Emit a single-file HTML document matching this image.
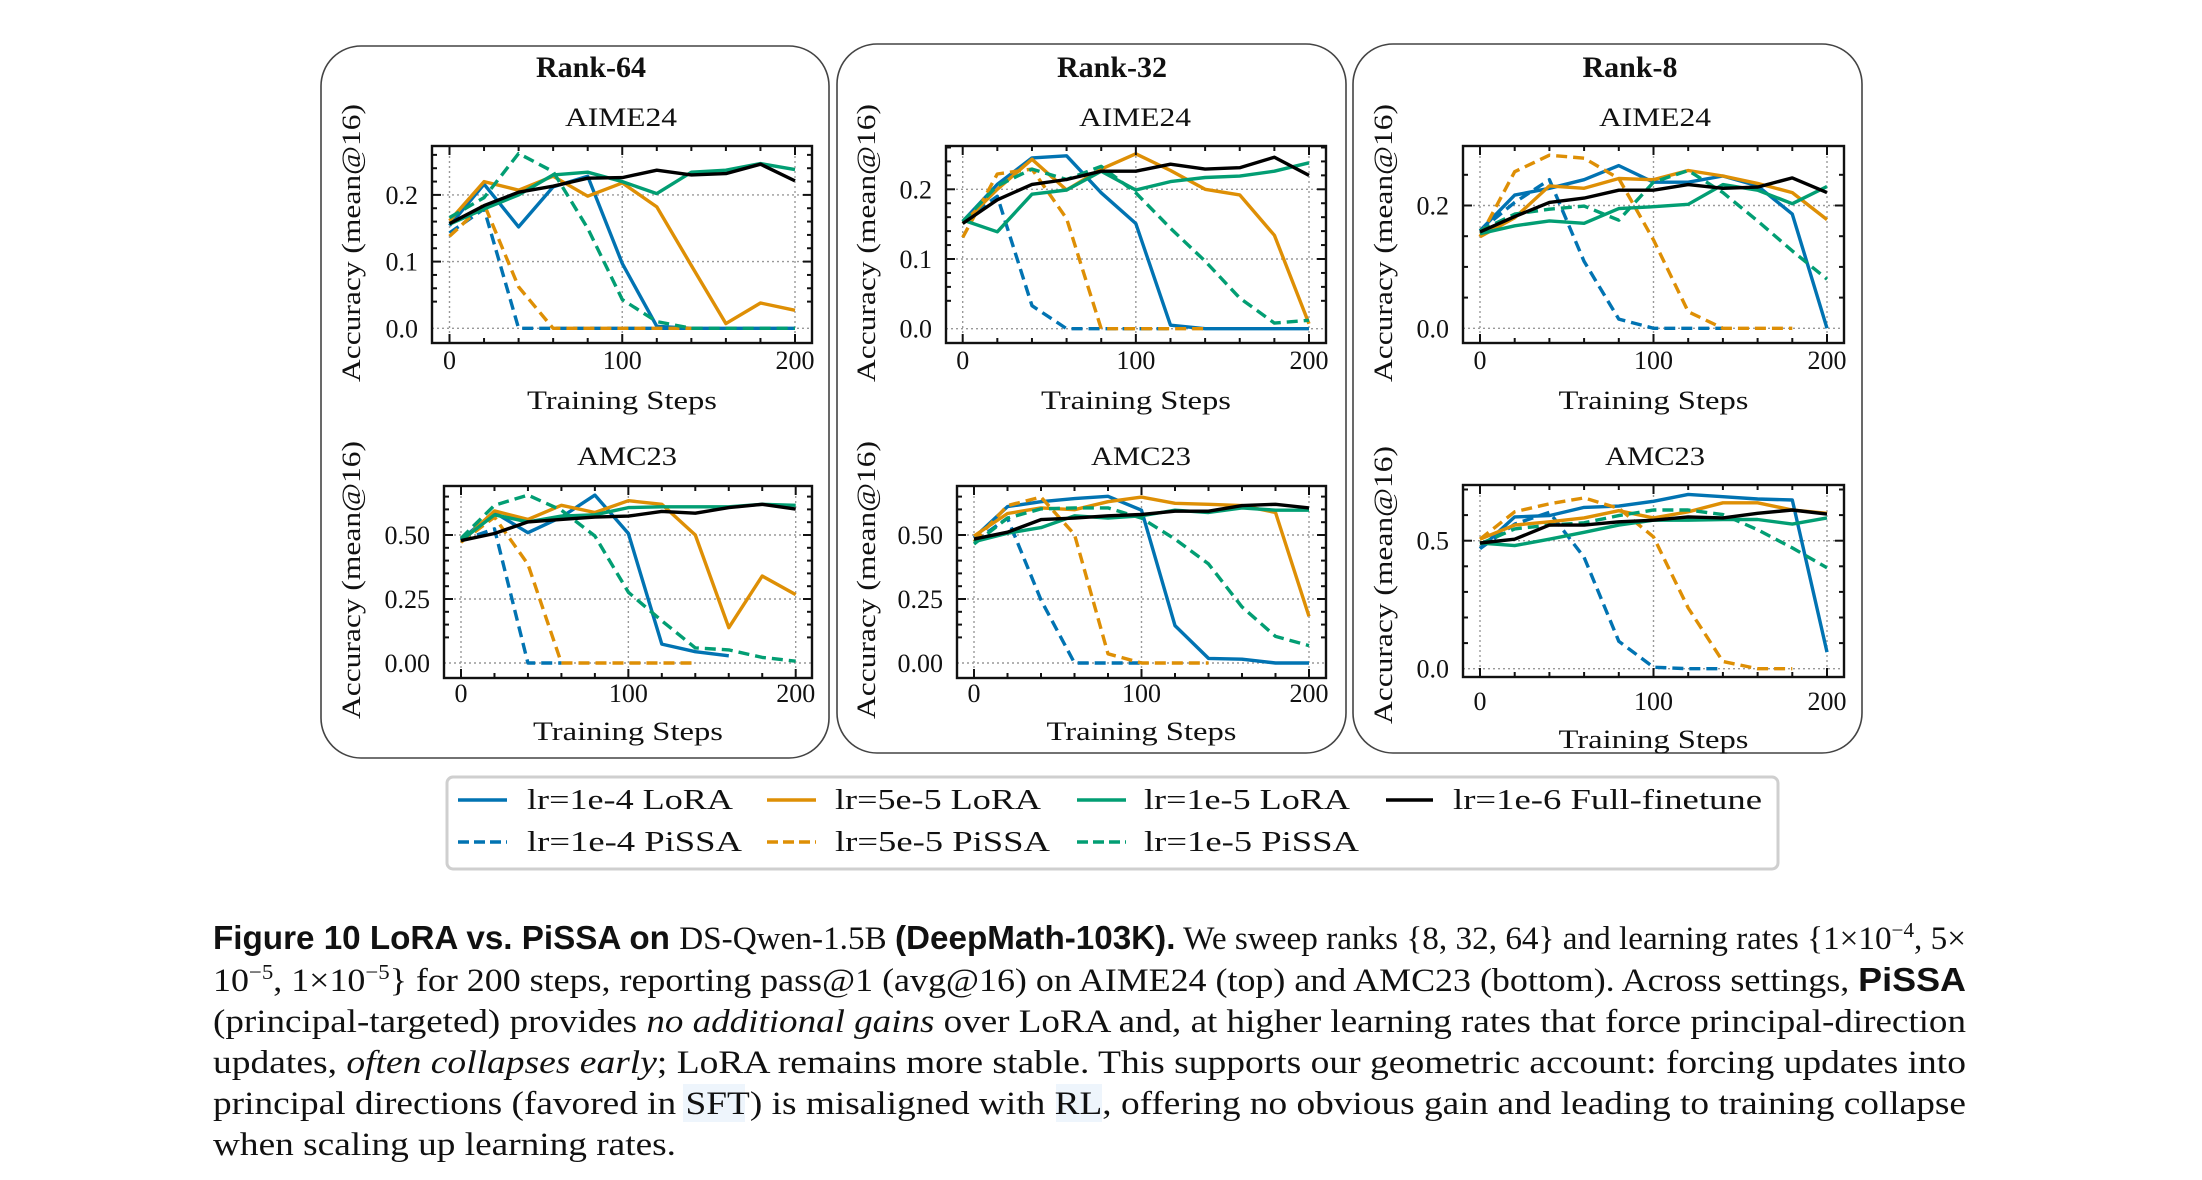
<!DOCTYPE html>
<html><head><meta charset="utf-8"><style>
html,body{margin:0;padding:0;background:#fff;}
svg{display:block;}
text{font-family:"Liberation Serif",serif;fill:#111;}
.sans{font-family:"Liberation Sans",sans-serif;font-weight:bold;}
</style></head>
<body>
<svg id="fig" xmlns="http://www.w3.org/2000/svg" width="2202" height="1180" viewBox="0 0 2202 1180">
<rect width="2202" height="1180" fill="#fff"/>
<g id="panels"></g>
<g id="legend">
  <rect x="447" y="777" width="1331" height="92" rx="6" fill="#fff" stroke="#cfcfcf" stroke-width="3"/>
  <g><line x1="458" y1="800" x2="507" y2="800" stroke="#0173B2" stroke-width="3.5"/><text x="527" y="809" font-size="28" textLength="206" lengthAdjust="spacingAndGlyphs">lr=1e-4 LoRA</text></g>
  <g><line x1="767" y1="800" x2="816" y2="800" stroke="#DE8F05" stroke-width="3.5"/><text x="835" y="809" font-size="28" textLength="206" lengthAdjust="spacingAndGlyphs">lr=5e-5 LoRA</text></g>
  <g><line x1="1077" y1="800" x2="1126" y2="800" stroke="#029E73" stroke-width="3.5"/><text x="1144" y="809" font-size="28" textLength="206" lengthAdjust="spacingAndGlyphs">lr=1e-5 LoRA</text></g>
  <g><line x1="1386" y1="800" x2="1433" y2="800" stroke="#000" stroke-width="3.5"/><text x="1453" y="809" font-size="28" textLength="309" lengthAdjust="spacingAndGlyphs">lr=1e-6 Full-finetune</text></g>
  <g><line x1="458" y1="842" x2="507" y2="842" stroke="#0173B2" stroke-width="3.5" stroke-dasharray="11,5"/><text x="527" y="851" font-size="28" textLength="215" lengthAdjust="spacingAndGlyphs">lr=1e-4 PiSSA</text></g>
  <g><line x1="767" y1="842" x2="816" y2="842" stroke="#DE8F05" stroke-width="3.5" stroke-dasharray="11,5"/><text x="835" y="851" font-size="28" textLength="215" lengthAdjust="spacingAndGlyphs">lr=5e-5 PiSSA</text></g>
  <g><line x1="1077" y1="842" x2="1126" y2="842" stroke="#029E73" stroke-width="3.5" stroke-dasharray="11,5"/><text x="1144" y="851" font-size="28" textLength="215" lengthAdjust="spacingAndGlyphs">lr=1e-5 PiSSA</text></g>
</g>
<g id="caption">
  <rect x="683" y="1084" width="62" height="38" fill="#eef5fc"/>
  <rect x="1056" y="1084" width="46" height="38" fill="#eef5fc"/>
  <text x="213" y="949" font-size="33" textLength="1753" lengthAdjust="spacingAndGlyphs"><tspan class="sans">Figure 10  LoRA vs. PiSSA on </tspan><tspan>DS-Qwen-1.5B </tspan><tspan class="sans">(DeepMath-103K).</tspan><tspan> We sweep ranks {8, 32, 64} and learning rates {1×10</tspan><tspan font-size="21" dy="-12">−4</tspan><tspan dy="12">, 5×</tspan></text>
  <text x="213" y="991" font-size="33" textLength="1753" lengthAdjust="spacingAndGlyphs"><tspan>10</tspan><tspan font-size="21" dy="-12">−5</tspan><tspan dy="12">, 1×10</tspan><tspan font-size="21" dy="-12">−5</tspan><tspan dy="12">} for 200 steps, reporting pass@1 (avg@16) on AIME24 (top) and AMC23 (bottom). Across settings, </tspan><tspan class="sans">PiSSA</tspan></text>
  <text x="213" y="1032" font-size="33" textLength="1753" lengthAdjust="spacingAndGlyphs">(principal-targeted) provides <tspan font-style="italic">no additional gains</tspan> over LoRA and, at higher learning rates that force principal-direction</text>
  <text x="213" y="1073" font-size="33" textLength="1753" lengthAdjust="spacingAndGlyphs">updates, <tspan font-style="italic">often collapses early</tspan>; LoRA remains more stable. This supports our geometric account: forcing updates into</text>
  <text x="213" y="1114" font-size="33" textLength="1753" lengthAdjust="spacingAndGlyphs">principal directions (favored in SFT) is misaligned with RL, offering no obvious gain and leading to training collapse</text>
  <text x="213" y="1155" font-size="33" textLength="463" lengthAdjust="spacingAndGlyphs">when scaling up learning rates.</text>
</g>
</svg>
<script>
const steps = [0,20,40,60,80,100,120,140,160,180,200];
const seriesNames = ["lora-1e-4","pissa-1e-4","lora-5e-5","pissa-5e-5","lora-1e-5","pissa-1e-5","full-1e-6"];
// Rank-64 AIME24
const r64AimeLora1e4 = [0.154,0.216,0.152,0.212,0.228,0.097,0.003,0,0,0,0];
const r64AimePissa1e4 = [0.143,0.179,0,0,0,0,0,0,null,null,null];
const r64AimeLora5e5 = [0.161,0.220,0.207,0.228,0.198,0.218,0.182,0.094,0.007,0.038,0.027];
const r64AimePissa5e5 = [0.138,0.186,0.062,0,0,0,0,0,null,null,null];
const r64AimeLora1e5 = [0.156,0.179,0.200,0.230,0.234,0.220,0.202,0.234,0.237,0.247,0.238];
const r64AimePissa1e5 = [0.166,0.196,0.262,0.235,0.150,0.043,0.010,0,0,0,0];
const r64AimeFull = [0.157,0.184,0.204,0.213,0.225,0.226,0.237,0.230,0.232,0.246,0.221];
// Rank-64 AMC23
const r64AmcLora1e4 = [0.482,0.588,0.509,0.570,0.656,0.506,0.074,0.044,0.028,null,null];
const r64AmcPissa1e4 = [0.478,0.524,0,0,null,null,null,null,null,null,null];
const r64AmcLora5e5 = [0.472,0.594,0.561,0.616,0.588,0.634,0.620,0.500,0.138,0.340,0.267];
const r64AmcPissa5e5 = [0.472,0.570,0.386,0,0,0,0,0,null,null,null];
const r64AmcLora1e5 = [0.478,0.579,0.551,0.574,0.579,0.607,0.610,0.610,0.610,0.620,0.616];
const r64AmcPissa1e5 = [0.487,0.616,0.656,0.597,0.496,0.276,0.165,0.059,0.051,0.022,0.007];
const r64AmcFull = [0.478,0.506,0.551,0.561,0.570,0.574,0.592,0.585,0.607,0.620,0.601];
// Rank-32 AIME24
const r32AimeLora1e4 = [0.154,0.207,0.245,0.248,0.195,0.151,0.005,0,0,0,0];
const r32AimePissa1e4 = [0.154,0.190,0.033,0,0,0,0,null,null,null,null];
const r32AimeLora5e5 = [0.151,0.200,0.243,0.199,0.229,0.251,0.227,0.200,0.192,0.134,0.007];
const r32AimePissa5e5 = [0.131,0.222,0.229,0.158,0,0,0,0,null,null,null];
const r32AimeLora1e5 = [0.156,0.139,0.193,0.199,0.226,0.199,0.211,0.217,0.219,0.226,0.238];
const r32AimePissa1e5 = [0.154,0.205,0.229,0.214,0.233,0.195,0.144,0.097,0.044,0.008,0.012];
const r32AimeFull = [0.151,0.185,0.207,0.214,0.226,0.226,0.236,0.229,0.231,0.246,0.220];
// Rank-32 AMC23
const r32AmcLora1e4 = [0.489,0.611,0.630,0.642,0.651,0.597,0.146,0.018,0.015,0,0];
const r32AmcPissa1e4 = [0.474,0.566,0.246,0,0,0,null,null,null,null,null];
const r32AmcLora5e5 = [0.496,0.584,0.606,0.599,0.630,0.648,0.624,0.620,0.615,0.588,0.182];
const r32AmcPissa5e5 = [0.474,0.615,0.648,0.502,0.036,0,0,0,null,null,null];
const r32AmcLora1e5 = [0.474,0.507,0.529,0.575,0.566,0.575,0.597,0.588,0.606,0.597,0.597];
const r32AmcPissa1e5 = [0.465,0.566,0.602,0.606,0.606,0.566,0.484,0.387,0.219,0.104,0.068];
const r32AmcFull = [0.484,0.511,0.560,0.566,0.575,0.580,0.593,0.593,0.615,0.620,0.606];
// Rank-8 AIME24
const r8AimeLora1e4 = [0.159,0.217,0.228,0.242,0.265,0.238,0.238,0.248,0.232,0.186,0];
const r8AimePissa1e4 = [0.159,0.205,0.242,0.109,0.015,0,0,0,null,null,null];
const r8AimeLora5e5 = [0.149,0.180,0.232,0.228,0.244,0.242,0.257,0.248,0.236,0.221,0.177];
const r8AimePissa5e5 = [0.149,0.255,0.282,0.277,0.244,0.144,0.027,0,0,0,null];
const r8AimeLora1e5 = [0.154,0.167,0.175,0.171,0.195,0.198,0.202,0.234,0.225,0.203,0.231];
const r8AimePissa1e5 = [0.159,0.186,0.194,0.199,0.176,0.238,0.257,0.221,0.175,0.126,0.080];
const r8AimeFull = [0.157,0.182,0.205,0.212,0.225,0.225,0.234,0.228,0.230,0.245,0.221];
// Rank-8 AMC23
const r8AmcLora1e4 = [0.469,0.593,0.598,0.630,0.635,0.654,0.681,0.672,0.663,0.659,0.065];
const r8AmcPissa1e4 = [0.469,0.565,0.611,0.435,0.107,0.006,0,0,null,null,null];
const r8AmcLora5e5 = [0.506,0.561,0.574,0.589,0.617,0.589,0.613,0.648,0.648,0.620,0.607];
const r8AmcPissa5e5 = [0.506,0.613,0.644,0.667,0.626,0.515,0.237,0.028,0,0,null];
const r8AmcLora1e5 = [0.491,0.481,0.506,0.533,0.561,0.580,0.580,0.583,0.583,0.565,0.589];
const r8AmcPissa1e5 = [0.487,0.546,0.561,0.570,0.598,0.620,0.620,0.602,0.543,0.472,0.394];
const r8AmcFull = [0.491,0.506,0.561,0.561,0.574,0.580,0.593,0.589,0.607,0.620,0.604];
// tick labels
const aimeTicks = ["0.0","0.1","0.2"];
const amcTicks = ["0.00","0.25","0.50"];
const r8AimeTicks = ["0.0","0.2"];
const r8AmcTicks = ["0.0","0.5"];
const xTicks = ["0","100","200"];

const NS = "http://www.w3.org/2000/svg";
const COLORS = {"lora-1e-4":"#0173B2","pissa-1e-4":"#0173B2","lora-5e-5":"#DE8F05","pissa-5e-5":"#DE8F05","lora-1e-5":"#029E73","pissa-1e-5":"#029E73","full-1e-6":"#000"};
function mk(tag, attrs, parent){const e=document.createElementNS(NS,tag);for(const k in attrs)e.setAttribute(k,attrs[k]);if(parent)parent.appendChild(e);return e;}
const root = document.getElementById("panels");

function panelBox(name,x,y,w,h,title,tx){
  const g=mk("g",{},root);
  
  
  mk("rect",{x:x,y:y,width:w,height:h,rx:40,fill:"none",stroke:"#444","stroke-width":1.6},g);
  const t=mk("text",{x:tx,y:77,"font-size":30,"font-weight":"bold","text-anchor":"middle"},g);
  t.textContent=title;
  
  
}
panelBox("panel-rank-64",321,46,508,712,"Rank-64",591);
panelBox("panel-rank-32",837,44,509,709,"Rank-32",1112);
panelBox("panel-rank-8",1353,44,509,709,"Rank-8",1630);

function axes(cfg, data, ticks, tickVals, minorStep){
  const g=mk("g",{},root);
  
  
  const sx=v=>cfg.x0+(v/200)*(cfg.x200-cfg.x0);
  const sy=v=>cfg.y0-v*cfg.unit;
  const tt=mk("text",{x:cfg.titleX,y:cfg.titleY,"font-size":26,"text-anchor":"middle",textLength:cfg.titleW,lengthAdjust:"spacingAndGlyphs"},g);
  tt.textContent=cfg.title;
  
  
  tickVals.forEach(v=>{mk("line",{x1:cfg.L,x2:cfg.R,y1:sy(v),y2:sy(v),stroke:"#999","stroke-width":1.4,"stroke-dasharray":"2,3"},g);});
  [0,100,200].forEach(v=>{mk("line",{x1:sx(v),x2:sx(v),y1:cfg.T,y2:cfg.B,stroke:"#999","stroke-width":1.4,"stroke-dasharray":"2,3"},g);});
  const order=[0,1,2,3,4,5,6];
  order.forEach(i=>{
    const vals=data[i]; let d="";let pen=false;
    vals.forEach((v,j)=>{ if(v===null){pen=false;return;} d+=(pen?"L":"M")+sx(steps[j]).toFixed(1)+","+sy(v).toFixed(1); pen=true;});
    const p=mk("path",{d:d,fill:"none",stroke:COLORS[seriesNames[i]],"stroke-width":3.4,"stroke-linejoin":"round"},g);
    if(seriesNames[i].startsWith("pissa")) p.setAttribute("stroke-dasharray","11,6");
    
    
  });
  mk("rect",{x:cfg.L,y:cfg.T,width:cfg.R-cfg.L,height:cfg.B-cfg.T,fill:"none",stroke:"#111","stroke-width":2.4},g);
  for(let s=0;s<=200;s+=20){const X=sx(s);const len=(s%100===0)?9:5;
    mk("line",{x1:X,x2:X,y1:cfg.B,y2:cfg.B-len,stroke:"#111","stroke-width":2},g);
    mk("line",{x1:X,x2:X,y1:cfg.T,y2:cfg.T+len,stroke:"#111","stroke-width":2},g);}
  xTicks.forEach(t=>{const e=mk("text",{x:sx(+t),y:cfg.xtY,"font-size":26,"text-anchor":"middle"},g);e.textContent=t;
    
    });
  const ymin=(cfg.y0-cfg.B)/-cfg.unit, ymax=(cfg.y0-cfg.T)/cfg.unit;
  for(let k=Math.ceil(ymin/minorStep-1e-6);k*minorStep<=ymax+1e-9;k++){const v=k*minorStep;const Y=sy(v);
    const major=tickVals.some(tv=>Math.abs(tv-v)<1e-6);const len=major?9:5;
    mk("line",{x1:cfg.L,x2:cfg.L+len,y1:Y,y2:Y,stroke:"#111","stroke-width":2},g);
    mk("line",{x1:cfg.R,x2:cfg.R-len,y1:Y,y2:Y,stroke:"#111","stroke-width":2},g);}
  ticks.forEach((t,i)=>{const e=mk("text",{x:cfg.L-14,y:sy(tickVals[i])+9,"font-size":26,"text-anchor":"end"},g);e.textContent=t;
    
    });
  const xl=mk("text",{x:(cfg.L+cfg.R)/2,y:cfg.xlY,"font-size":26,"text-anchor":"middle",textLength:190,lengthAdjust:"spacingAndGlyphs"},g);
  xl.textContent="Training Steps";
  
  
  const yl=mk("text",{x:0,y:0,"font-size":26,"text-anchor":"middle",textLength:278,lengthAdjust:"spacingAndGlyphs",transform:`translate(${cfg.ylX},${cfg.ylY}) rotate(-90)`},g);
  yl.textContent="Accuracy (mean@16)";
  
  
}

axes({name:"chart-rank64-aime24",title:"AIME24",titleX:621,titleY:126,titleW:112,L:432,R:812,T:146,B:343,x0:449.5,x200:795,y0:328.3,unit:667,xtY:369,xlY:409,ylX:360,ylY:243},
  [r64AimeLora1e4,r64AimePissa1e4,r64AimeLora5e5,r64AimePissa5e5,r64AimeLora1e5,r64AimePissa1e5,r64AimeFull],aimeTicks,[0,0.1,0.2],0.02);
axes({name:"chart-rank64-amc23",title:"AMC23",titleX:627,titleY:465,titleW:100,L:444,R:812,T:486,B:678,x0:461,x200:795.7,y0:663,unit:256,xtY:702,xlY:740,ylX:360,ylY:580},
  [r64AmcLora1e4,r64AmcPissa1e4,r64AmcLora5e5,r64AmcPissa5e5,r64AmcLora1e5,r64AmcPissa1e5,r64AmcFull],amcTicks,[0,0.25,0.5],0.05);
axes({name:"chart-rank32-aime24",title:"AIME24",titleX:1135,titleY:126,titleW:112,L:946,R:1326,T:146,B:343,x0:962.7,x200:1309,y0:328.7,unit:697,xtY:369,xlY:409,ylX:875,ylY:243},
  [r32AimeLora1e4,r32AimePissa1e4,r32AimeLora5e5,r32AimePissa5e5,r32AimeLora1e5,r32AimePissa1e5,r32AimeFull],aimeTicks,[0,0.1,0.2],0.02);
axes({name:"chart-rank32-amc23",title:"AMC23",titleX:1141,titleY:465,titleW:100,L:957,R:1326,T:486,B:678,x0:974,x200:1309,y0:663,unit:256,xtY:702,xlY:740,ylX:875,ylY:580},
  [r32AmcLora1e4,r32AmcPissa1e4,r32AmcLora5e5,r32AmcPissa5e5,r32AmcLora1e5,r32AmcPissa1e5,r32AmcFull],amcTicks,[0,0.25,0.5],0.05);
axes({name:"chart-rank8-aime24",title:"AIME24",titleX:1655,titleY:126,titleW:112,L:1463,R:1844,T:146,B:343,x0:1480,x200:1827,y0:328.3,unit:614,xtY:369,xlY:409,ylX:1392,ylY:243},
  [r8AimeLora1e4,r8AimePissa1e4,r8AimeLora5e5,r8AimePissa5e5,r8AimeLora1e5,r8AimePissa1e5,r8AimeFull],r8AimeTicks,[0,0.2],0.05);
axes({name:"chart-rank8-amc23",title:"AMC23",titleX:1655,titleY:465,titleW:100,L:1463,R:1844,T:485,B:677,x0:1480,x200:1827,y0:668.7,unit:256,xtY:710,xlY:748,ylX:1392,ylY:585},
  [r8AmcLora1e4,r8AmcPissa1e4,r8AmcLora5e5,r8AmcPissa5e5,r8AmcLora1e5,r8AmcPissa1e5,r8AmcFull],r8AmcTicks,[0,0.5],0.1);
</script>
</body></html>
